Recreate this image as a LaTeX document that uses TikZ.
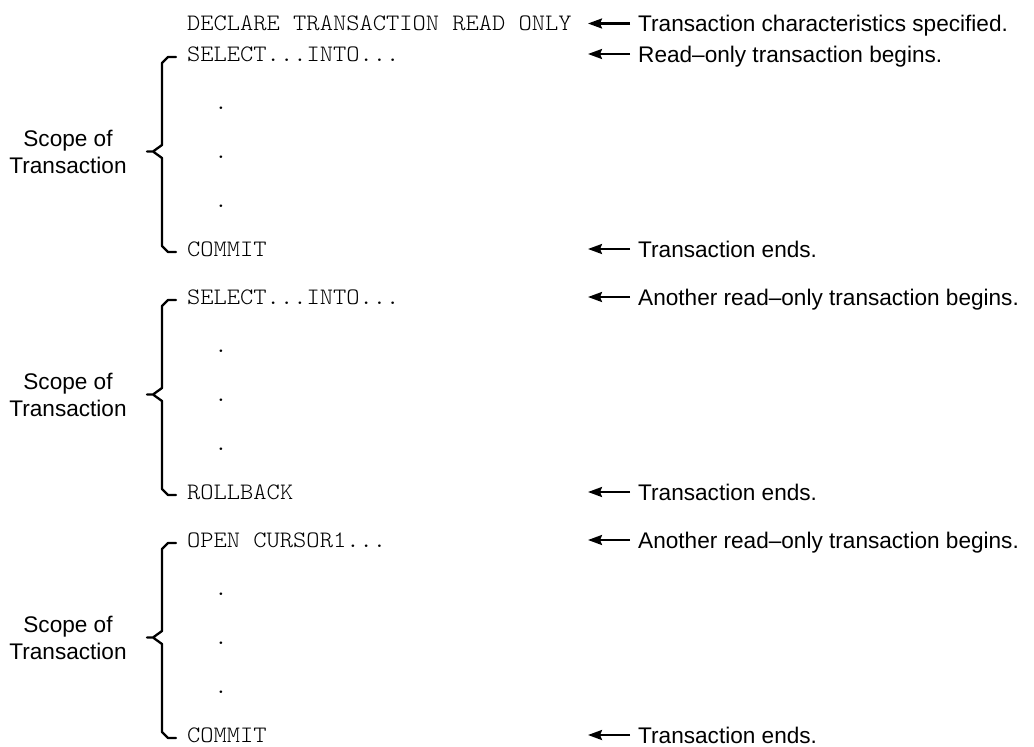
\documentclass[tikz,border=0pt]{standalone}
\usepackage{fontspec}
\setmainfont{Liberation Sans}
\newfontfamily\codefont[FakeStretch=1.07]{Latin Modern Mono Light}
\usetikzlibrary{arrows.meta}
% statement texts (kept out of the \foreach lists, where "..." means a range)
\newcommand\stmtSelect{SELECT...INTO...}
\newcommand\stmtOpen{OPEN CURSOR1...}
\begin{document}
\begin{tikzpicture}[x=1pt,y=-1pt,
  code/.style={font=\codefont\fontsize{23.6}{28}\selectfont, inner sep=0pt, anchor=base west},
  codedot/.style={code, anchor=base},
  note/.style={font=\fontsize{22.6}{27}\selectfont, inner sep=0pt, anchor=base west},
  scopelabel/.style={font=\fontsize{22.6}{27}\selectfont, inner sep=0pt, anchor=base},
  pointer/.style={line width=2.3pt, shorten <=8pt, -{Stealth[length=14pt,width=10pt,inset=2pt]}},
  bracket/.style={line width=2.3pt, line join=round, line cap=round}]
\useasboundingbox (0,0) rectangle (1034,747);

% opening statement
\node[code] (decl) at (187,30.5) {DECLARE TRANSACTION READ ONLY};

% three transaction blocks, 243 units apart
\foreach \k/\first/\last in {0/\stmtSelect/COMMIT,1/\stmtSelect/ROLLBACK,2/\stmtOpen/COMMIT}{
  \pgfmathsetmacro\oy{243*\k}
  \node[code] (open\k) at (187,\oy+61) {\first};
  \node[code] (close\k) at (187,\oy+256) {\last};
  \foreach \j in {1,2,3}
    \node[codedot] (dot\k\j) at (221,\oy+61+48.75*\j) {.};
  % curly bracket marking the scope
  \draw[bracket] (176,\oy+57) -- (168,\oy+57) -- (162,\oy+63) -- (162,\oy+145)
    -- (153,\oy+151.5) -- (147,\oy+151.5) -- (153,\oy+151.5) -- (162,\oy+158)
    -- (162,\oy+246) -- (168,\oy+252) -- (176,\oy+252);
  \node[scopelabel] (scA\k) at (68,\oy+146.1) {Scope of};
  \node[scopelabel] (scB\k) at (68,\oy+173.1) {Transaction};
}

% comments on the right, each pointing back at its statement
\foreach \r/\y/\txt in {
  decl/23.5/Transaction characteristics specified.,
  open0/54/Read–only transaction begins.,
  close0/249/Transaction ends.,
  open1/297/Another read–only transaction begins.,
  close1/492/Transaction ends.,
  open2/540/Another read–only transaction begins.,
  close2/735/Transaction ends.}{
  \node[note] (n-\r) at (638,\y+8.1) {\txt};
  \coordinate (tip-\r) at (588,\y);
  \draw[pointer] (n-\r.west |- tip-\r) -- (tip-\r);
}
\end{tikzpicture}
\end{document}
